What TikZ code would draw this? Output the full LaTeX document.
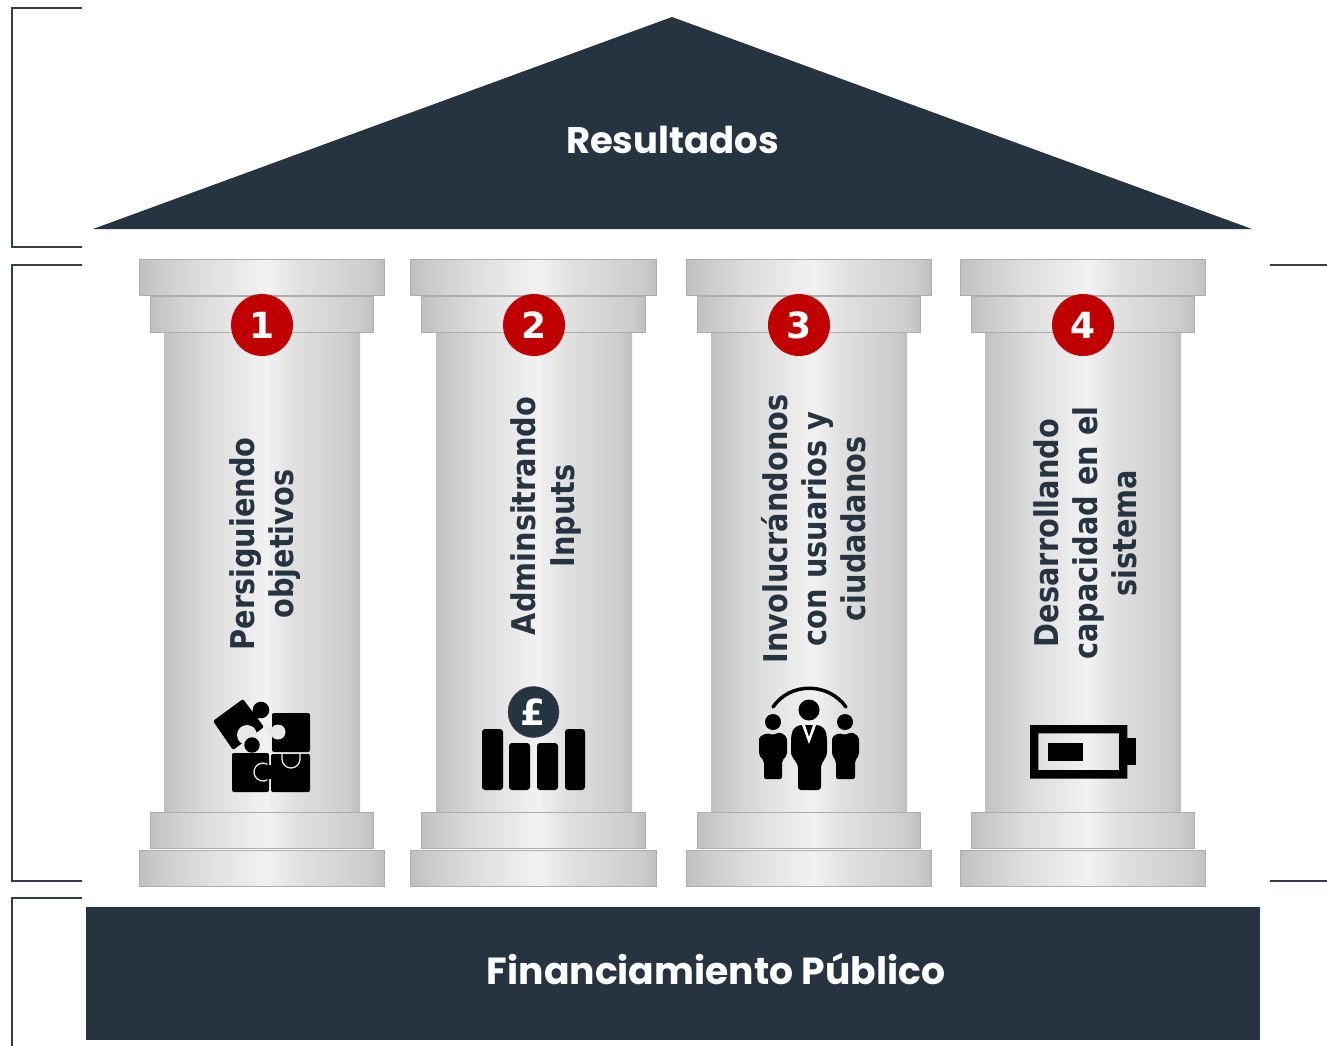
\documentclass[tikz,border=0pt]{standalone}
\usepackage{fontspec}
\setmainfont{Noto Sans}
\newfontfamily\headfont{Poppins}
\newfontfamily\colfont{DejaVu Sans}[FakeStretch=0.88]
\newfontfamily\numfont{DejaVu Sans}
\definecolor{navy}{HTML}{263340}
\definecolor{brk}{HTML}{2F3D4C}
\definecolor{redc}{HTML}{C00000}
\definecolor{gap}{HTML}{E8E8E8}
\pgfdeclarehorizontalshading{pillar}{100bp}{
 gray(0bp)=(.753); gray(25bp)=(.753); gray(29bp)=(.796); gray(38bp)=(.871);
 gray(51bp)=(.949); gray(58bp)=(.878); gray(66bp)=(.835); gray(72bp)=(.80); gray(75bp)=(.749); gray(100bp)=(.749)}
\tikzset{
 plate/.style={rectangle,inner sep=0pt,outer sep=0pt,shading=pillar,draw=black!32,line width=1pt},
 shaft/.style={rectangle,inner sep=0pt,outer sep=0pt,shading=pillar,minimum width=196pt,minimum height=480pt},
 wide/.style={plate,minimum width=245.5pt,minimum height=36pt},
 mid/.style={plate,minimum width=223.5pt,minimum height=36pt},
 badge/.style={circle,fill=redc,inner sep=0pt,minimum size=62pt,text=white,font=\numfont\bfseries\fontsize{36}{36}\selectfont},
 coltext/.style={rotate=90,align=center,text=navy,font=\colfont\bfseries\fontsize{32.7}{39}\selectfont},
 band/.style={draw=brk,line width=2.4pt},
 headtext/.style={text=white,font=\headfont\bfseries\fontsize{37}{37}\selectfont},
 ink/.style={fill=black,draw=none},
 notch/.style={fill=gap,draw=none},
 seam/.style={draw=gap,line width=1.3pt}
}
\begin{document}
\begin{tikzpicture}[x=1pt,y=-1pt]
\useasboundingbox (0,0) rectangle (1327,1046);
% brackets
\coordinate (a1) at (82,8); \coordinate (a2) at (12,8); \coordinate (a3) at (12,247); \coordinate (a4) at (82,247);
\draw[band] (a1) -- (a2) -- (a3) -- (a4);
\coordinate (b1) at (82,265); \coordinate (b2) at (12,265); \coordinate (b3) at (12,881); \coordinate (b4) at (82,881);
\draw[band] (b1) -- (b2) -- (b3) -- (b4);
\coordinate (c1) at (82,898); \coordinate (c2) at (12,898); \coordinate (c3) at (12,1046);
\draw[band] (c1) -- (c2) -- (c3);
\coordinate (d1) at (1270,265); \coordinate (d2) at (1327,265);
\coordinate (e1) at (1270,881); \coordinate (e2) at (1327,881);
\draw[band] (d1) -- (d2);
\draw[band] (e1) -- (e2);
% roof and base
\fill[navy] (672,17) -- (1252,229) -- (93,229) -- cycle;
\node[headtext] (roof) at (672.5,140) {Resultados};
\fill[navy] (86,907) rectangle (1260,1040);
\node[headtext,font=\headfont\bfseries\fontsize{37.7}{37.7}\selectfont] (base) at (716,969) {Financiamiento Público};
% pillars
\foreach \n/\cx/\px in {p/262/262,q/534/533.7,r/809/809.2,s/1083/1083}{
 \node[shaft] (\n shaft) at (\cx,572) {};
 \node[wide] (\n top) at (\px,277.7) {};
 \node[mid] (\n cap) at (\px,314) {};
 \node[mid] (\n foot) at (\px,830.5) {};
 \node[wide] (\n base) at (\px,868) {};
}
\node[badge] (b1n) at (262,325) {\raisebox{-1pt}{1}};
\node[badge] (b2n) at (534,325) {\raisebox{-1pt}{2}};
\node[badge] (b3n) at (799,325) {\raisebox{-1pt}{3}};
\node[badge] (b4n) at (1083,325) {\raisebox{-1pt}{4}};
\node[coltext] (t1) at (265,544) {Persiguiendo\\objetivos};
\node[coltext] (t2) at (545.5,516) {Adminsitrando\\Inputs};
\node[coltext] (t3) at (813.5,529) {Involucrándonos\\con usuarios y\\ciudadanos};
\node[coltext] (t4) at (1085,533) {Desarrollando\\capacidad en el\\sistema};
% puzzle icon
\fill[ink,rounded corners=1.5pt] (243,699) -- (213,721) -- (233,750) -- (264,727) -- cycle;
\fill[ink] (252,712) -- (258,703) -- (263,712) -- (257,720) -- cycle;
\fill[ink] (261,710) circle (8.3);
\fill[ink,rounded corners=2pt] (272,713) rectangle (310,752);
\fill[notch] (247,735) circle (10);
\fill[notch] (278,732) circle (7.5);
\fill[notch] (264,727) -- (272,727) -- (272,738) -- cycle;
\fill[ink,rounded corners=2pt] (232,753) rectangle (269,792);
\fill[ink] (252,745) circle (7.7);
\fill[ink,rounded corners=2pt] (271,754) rectangle (310,792);
\draw[seam,fill=black] (267.5,779.8) arc[start angle=60,end angle=300,radius=9];
\fill[ink] (264,765) rectangle (272,779);
\draw[seam] (282,754) -- (282,759) arc[start angle=180,end angle=0,radius=9] -- (300,754);
% pound icon
\node[circle,fill=navy,draw=black!70,line width=0.5pt,inner sep=0pt,minimum size=51pt,text=white,font=\numfont\bfseries\fontsize{36}{36}\selectfont] (pound) at (533.5,712) {£};
\fill[ink] (482,729) [rounded corners=3pt] rectangle (503,790);
\fill[ink] (509,743) [rounded corners=3pt] rectangle (530,790);
\fill[ink] (537,743) [rounded corners=3pt] rectangle (558,790);
\fill[ink] (565,729) [rounded corners=3pt] rectangle (585,790);
% people icon
\draw[line width=3.5pt,line cap=round] (773,707) .. controls (790,682) and (828,682) .. (846,707);
\fill[ink] (809,710) circle (10.5);
\fill[ink] (773,722) circle (8);
\fill[ink] (845,722) circle (8);
\fill[ink,rounded corners=3pt] (799,725) -- (819,725) -- (825,729) -- (827,737) -- (827,755) -- (821,765) -- (821,790) -- (798,790) -- (798,765) -- (791,755) -- (791,737) -- (793,729) -- cycle;
\fill[white] (802,725) -- (809,744) -- (816,725) -- (813,725) -- (809,737) -- (805,725) -- cycle;
\fill[ink,rounded corners=2pt] (767,733) -- (773,735) -- (780,732) -- (787,737) -- (787,755) -- (782,761) -- (782,779) -- (764,779) -- (764,761) -- (759,755) -- (759,737) -- cycle;
\fill[ink,rounded corners=2pt] (839,733) -- (845,735) -- (852,732) -- (859,737) -- (859,755) -- (855,761) -- (855,779) -- (836,779) -- (836,761) -- (832,755) -- (832,737) -- cycle;
% battery icon
\fill[ink,even odd rule] (1030,725) rectangle (1127.3,778.7) (1038.3,733.3) rectangle (1119,770);
\fill[ink] (1047.7,743.3) rectangle (1083,761);
\fill[ink] (1127,738.3) rectangle (1136,765.3);
\end{tikzpicture}
\end{document}
